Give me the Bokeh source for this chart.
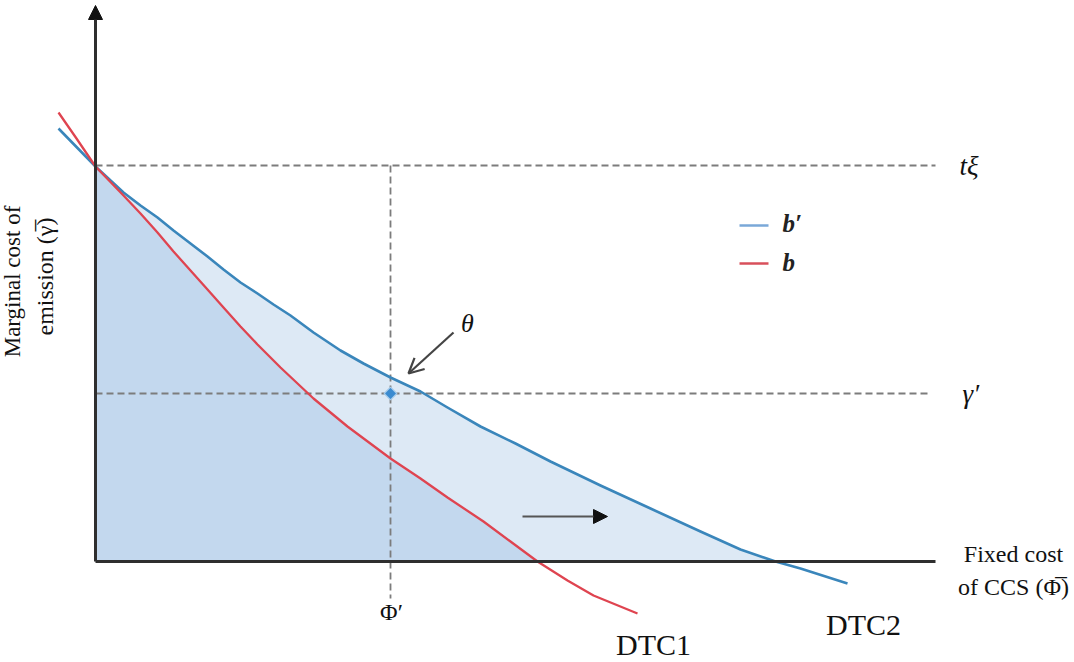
import numpy as np
from bokeh.plotting import figure
from bokeh.models import Range1d, Arrow, NormalHead, OpenHead, Label
from bokeh.embed import file_html
from bokeh.resources import INLINE

# ---- data (conceptual curves) ----
b_prime_x = [-0.37, 0.0, 0.28, 0.45, 0.62, 0.78, 0.95, 1.12, 1.28, 1.45, 1.62, 1.78, 1.95, 2.18, 2.45,
             2.68, 2.95, 3.25, 3.52, 3.85, 4.20, 4.55, 5.05, 5.55, 6.05, 6.45, 6.80, 7.05, 7.52]
b_prime_y = [4.33, 3.95, 3.69, 3.56, 3.44, 3.31, 3.18, 3.05, 2.92, 2.79, 2.68, 2.57, 2.46, 2.29, 2.11,
             1.98, 1.84, 1.70, 1.54, 1.35, 1.18, 1.00, 0.76, 0.53, 0.30, 0.12, 0.0, -0.07, -0.22]
b_x = [-0.37, -0.19, 0.0, 0.28, 0.45, 0.62, 0.78, 0.95, 1.12, 1.28, 1.45, 1.62, 1.85, 2.18, 2.52,
       2.95, 3.25, 3.52, 3.88, 4.15, 4.42, 4.72, 4.98, 5.42]
b_y = [4.49, 4.23, 3.95, 3.66, 3.48, 3.29, 3.10, 2.91, 2.72, 2.54, 2.35, 2.17, 1.94, 1.63, 1.35,
       1.03, 0.83, 0.64, 0.40, 0.20, 0.0, -0.19, -0.34, -0.52]

t_xi = 3.96        # horizontal level t*xi
gamma_p = 1.68     # gamma'
phi_p = 2.95       # Phi'
x_axis_end = 8.40
y_axis_end = 5.56

labels_curves = ["DTC1", "DTC2"]
legend_labels = ["b\u2032", "b"]

FONT = "Liberation Serif"
AX = "#2f2f2f"
DASH = "#7c7c7c"
BLUE = "#3a86bb"
RED = "#df4450"

p = figure(width=1074, height=662, output_backend="svg", toolbar_location=None,
           x_range=Range1d(-0.95, 9.79), y_range=Range1d(-1.01, 5.61),
           x_axis_type=None, y_axis_type=None, min_border=0,
           background_fill_color="white", border_fill_color="white")
p.min_border_left = p.min_border_right = p.min_border_top = p.min_border_bottom = 0
p.grid.visible = False
p.outline_line_color = None

# ---- fills ----
xs = np.linspace(0, x_axis_end, 1500)
yb2 = np.clip(np.interp(xs, b_prime_x, b_prime_y), 0, None)
yb1 = np.clip(np.interp(xs, b_x, b_y), 0, None)
p.varea(x=xs, y1=np.zeros_like(xs), y2=yb2, fill_color="#dde9f5")
p.varea(x=xs, y1=np.zeros_like(xs), y2=yb1, fill_color="#c3d8ee")

# ---- dashed guide lines ----
p.line([0, x_axis_end], [t_xi, t_xi], line_color=DASH, line_width=1.8, line_dash="7 4")
p.line([0, x_axis_end - 0.05], [gamma_p, gamma_p], line_color=DASH, line_width=1.8, line_dash="7 4")
p.line([phi_p, phi_p], [t_xi, -0.37], line_color=DASH, line_width=1.8, line_dash="7 4")

# ---- curves ----
p.line(b_prime_x, b_prime_y, line_color=BLUE, line_width=2.6, line_join="round")
p.line(b_x, b_y, line_color=RED, line_width=2.3, line_join="round")

# ---- axes ----
p.line([0, x_axis_end], [0, 0], line_color=AX, line_width=3)
p.add_layout(Arrow(end=NormalHead(size=14, fill_color="#111111", line_color="#111111"),
                   x_start=0, y_start=0, x_end=0, y_end=y_axis_end,
                   line_color=AX, line_width=3))

# ---- theta point and arrows ----
p.scatter([phi_p], [gamma_p], marker="square", angle=np.pi / 4, size=9,
          fill_color="#3b8bd0", line_color="#a6cbea", line_width=1.2)
p.add_layout(Arrow(end=OpenHead(size=15, line_color="#444444", line_width=2.2),
                   x_start=3.58, y_start=2.29, x_end=3.13, y_end=1.88,
                   line_color="#444444", line_width=2.2))
p.add_layout(Arrow(end=NormalHead(size=14, fill_color="#111111", line_color="#111111"),
                   x_start=4.27, y_start=0.45, x_end=5.12, y_end=0.45,
                   line_color="#555555", line_width=2))

# ---- legend ----
p.line([6.44, 6.73], [3.36, 3.36], line_color="#7aa8d8", line_width=2.5)
p.line([6.44, 6.73], [2.98, 2.98], line_color="#d8505b", line_width=2.5)
for yy, txt in zip([3.38, 2.99], legend_labels):
    p.add_layout(Label(x=6.87, y=yy, text=txt, text_font=FONT, text_font_size="25px",
                       text_font_style="bold italic", text_baseline="middle", text_color="#222222"))

# ---- text labels ----
def lab(x, y, t, size="22px", style="normal", align="center", angle=0.0):
    p.add_layout(Label(x=x, y=y, text=t, text_font=FONT, text_font_size=size,
                       text_font_style=style, text_align=align, text_baseline="middle",
                       text_color="#111111", angle=angle))

lab(8.64, t_xi, "t\u03be", size="27px", style="italic", align="left")
lab(8.67, gamma_p, "\u03b3\u2032", size="27px", style="italic", align="left")
lab(3.72, 2.38, "\u03b8", size="26px", style="italic")
lab(2.96, -0.50, "\u03a6\u2032", size="24px")
lab(5.58, -0.83, labels_curves[0], size="30px")
lab(7.68, -0.63, labels_curves[1], size="30px")
lab(9.18, 0.08, "Fixed cost", size="24px")
lab(9.18, -0.25, "of CCS (\u03a6\u0305)", size="24px")
lab(-0.83, 2.80, "Marginal cost of", size="23px", angle=np.pi / 2)
lab(-0.51, 2.85, "emission (\u03b3\u0305)", size="24px", angle=np.pi / 2)

open("out.html", "w").write(file_html(p, INLINE))
